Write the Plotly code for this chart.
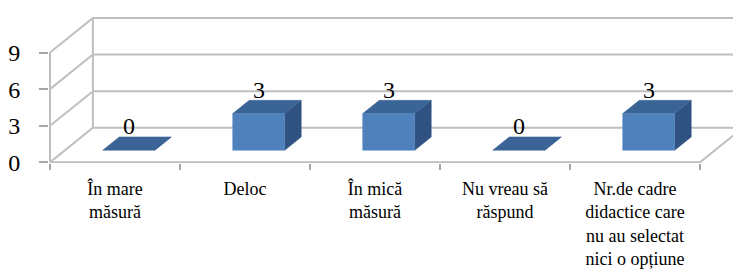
import plotly.graph_objects as go

categories = ["În mare<br>măsură", "Deloc", "În mică<br>măsură", "Nu vreau să<br>răspund",
              "Nr.de cadre<br>didactice care<br>nu au selectat<br>nici o opțiune"]
values = [0, 3, 3, 0, 3]
y_ticks = [0, 3, 6, 9]

# pseudo-3D projection parameters (data units)
DX, DY = 0.33, 2.83          # depth offset of back wall
F1, F2 = 0.35, 0.735         # bar depth range (fraction of depth)
BX0, BX1 = 0.29, 0.69        # bar extent within category
GRID = "#BFBFBF"
FRONT, TOP, SIDE = "#4F81BD", "#3B6496", "#2F5283"
FONT = "Liberation Serif"


def proj(x, v, f):
    return x + f * DX, v + f * DY


fig = go.Figure()


def line(pts, color=GRID, width=2):
    xs = [p[0] for p in pts]
    ys = [p[1] for p in pts]
    fig.add_trace(go.Scatter(x=xs, y=ys, mode="lines", line=dict(color=color, width=width),
                             hoverinfo="skip", showlegend=False))


n = len(categories)
# walls and gridlines
for v in y_ticks:
    line([proj(0, v, 0), proj(0, v, 1), proj(n + 0.5, v, 1)])
line([proj(0, 0, 1), proj(0, y_ticks[-1], 1)])
line([proj(0, 0, 0), proj(0, y_ticks[-1], 0)])
line([proj(0, 0, 0), proj(n, 0, 0), proj(n, 0, 1)])


def face(pts, color):
    xs = [p[0] for p in pts] + [pts[0][0]]
    ys = [p[1] for p in pts] + [pts[0][1]]
    fig.add_trace(go.Scatter(x=xs, y=ys, mode="lines", fill="toself", fillcolor=color,
                             line=dict(color=color, width=0.5), hoverinfo="skip",
                             showlegend=False))


for i, v in enumerate(values):
    x0, x1 = i + BX0, i + BX1
    face([proj(x1, 0, F1), proj(x1, 0, F2), proj(x1, v, F2), proj(x1, v, F1)], SIDE)
    face([proj(x0, v, F1), proj(x1, v, F1), proj(x1, v, F2), proj(x0, v, F2)], TOP)
    if v > 0:
        face([proj(x0, 0, F1), proj(x1, 0, F1), proj(x1, v, F1), proj(x0, v, F1)], FRONT)
    cx, cy = proj((x0 + x1) / 2, v, F1)
    fig.add_annotation(x=cx, y=cy + 1.95, text=str(v), showarrow=False,
                       font=dict(family=FONT, size=24, color="black"))

# page body has an 8px margin: the figure is sized/offset to compensate
fig.update_layout(
    template="none",
    width=733, height=262,
    margin=dict(l=41, r=0, t=0, b=107, autoexpand=False),
    paper_bgcolor="white", plot_bgcolor="white",
    font=dict(family=FONT, color="black"),
    showlegend=False,
    xaxis=dict(range=[-1 / 130, -1 / 130 + 692 / 130], tickvals=[i + 0.5 for i in range(n)],
               ticktext=categories, ticks="", showgrid=False, zeroline=False, showline=False,
               tickfont=dict(family=FONT, size=18, color="black"), ticklabelstandoff=13,
               minor=dict(tick0=0, dtick=1, ticks="outside", ticklen=6, tickwidth=1.5,
                          tickcolor="#A6A6A6", showgrid=False),
               fixedrange=True),
    yaxis=dict(range=[-0.7 / 12.2, -0.7 / 12.2 + 155 / 12.2], tickvals=y_ticks,
               ticktext=[str(t) for t in y_ticks], ticks="outside", ticklen=9, tickwidth=1.5,
               tickcolor="#A6A6A6", showgrid=False, zeroline=False, showline=False,
               tickfont=dict(family=FONT, size=24, color="black"), ticklabelstandoff=14,
               fixedrange=True),
)

fig.write_html("out.html")
